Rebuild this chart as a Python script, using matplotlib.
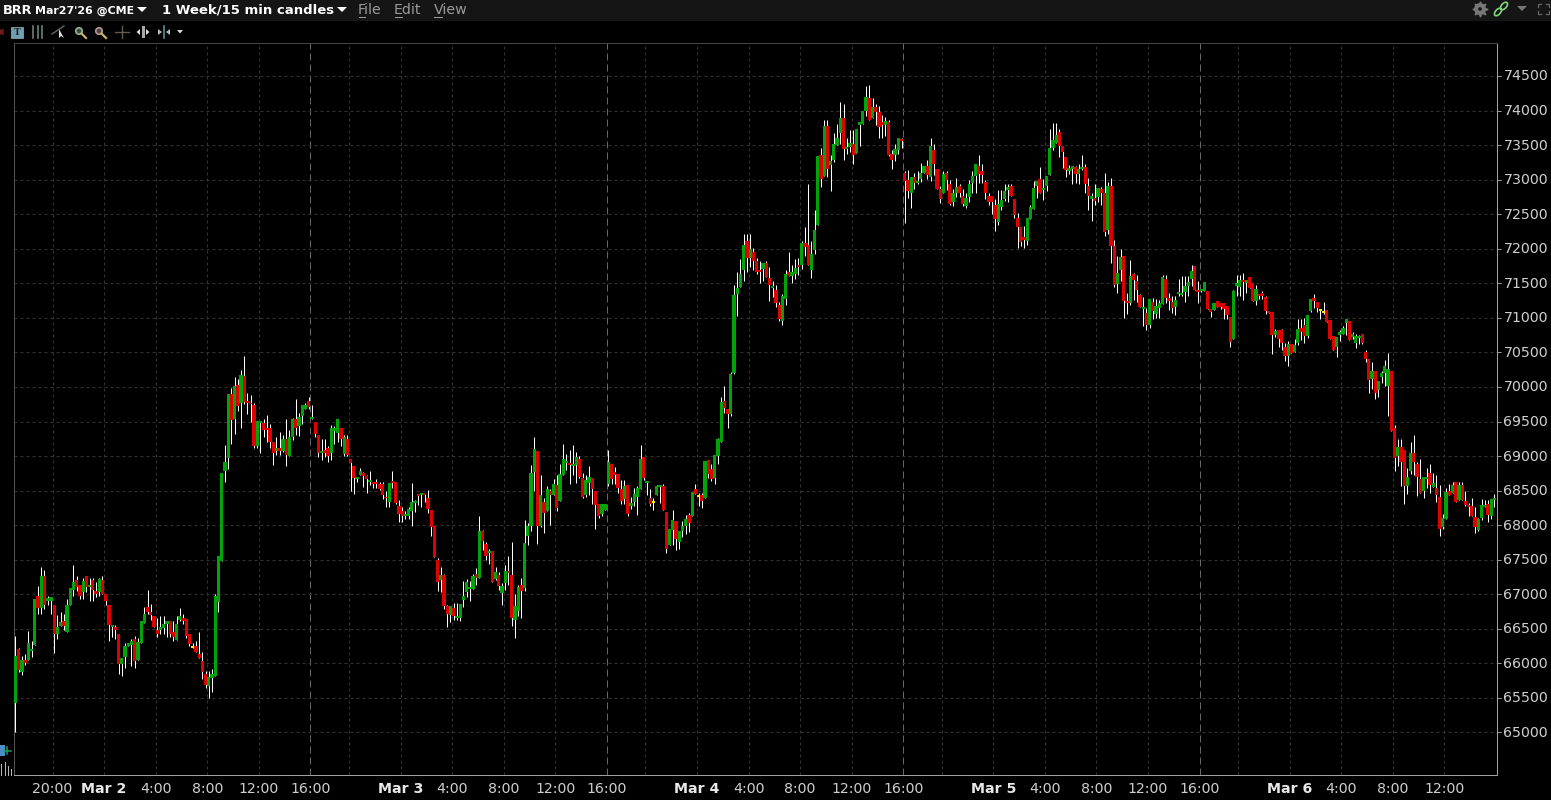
import matplotlib
matplotlib.use("Agg")
import matplotlib.pyplot as plt
from matplotlib.collections import LineCollection
from matplotlib.patches import Rectangle, Circle, Polygon, Ellipse
from matplotlib.transforms import ScaledTranslation

opens = [
65420,66210,65870,66050,66050,66180,66260,66980,66800,67270,
66900,66900,66840,66430,66540,66610,66460,66840,67060,67210,
67130,67030,67270,67100,67200,67050,67030,67200,67000,66850,
66520,66520,66420,65990,66090,66250,66260,66360,66050,66290,
66590,66820,66750,66680,66480,66490,66510,66570,66610,66450,
66340,66630,66650,66640,66420,66240,66250,66140,66040,65850,
65670,65790,65820,66890,67480,68790,68970,69900,69530,70030,
69770,70160,69800,69770,69740,69150,69480,69480,69410,69410,
69200,69070,69120,69080,69250,69000,69280,69540,69440,69580,
69680,69790,69530,69500,69310,69050,69090,69120,69050,69370,
69340,69400,69030,69240,68960,68850,68670,68730,68750,68710,
68630,68630,68630,68600,68600,68410,68340,68640,68630,68280,
68210,68130,68140,68210,68330,68450,68440,68470,68390,68220,
67990,67500,67210,67280,66830,66700,66800,66660,66660,66920,
67040,67080,67080,67300,67240,67910,67730,67600,67630,67220,
67280,67020,67160,67340,67280,66630,66760,67140,67090,67850,
67990,68770,69080,67990,68340,68210,68500,68430,68580,68350,
68730,68900,68900,68860,68870,68960,68690,68430,68610,68690,
68500,68310,68160,68220,68600,68880,68770,68740,68530,68380,
68580,68280,68340,68410,68530,68980,68610,68400,68330,68440,
68560,68570,68190,67720,67930,68060,67760,67920,67990,68150,
68140,68530,68420,68430,68400,68950,68820,68690,69000,69200,
69800,69680,69610,70200,71340,71440,71690,72110,71870,71950,
71830,71690,71700,71800,71570,71430,71410,71190,70960,71280,
71670,71610,71640,71770,71770,72090,72060,71690,71980,72340,
73350,73060,73770,73210,73280,73500,73670,73890,73440,73470,
73520,73380,73790,73800,74000,74180,73890,74050,73980,73830,
73790,73830,73370,73350,73430,73580,73090,73000,72810,73040,
72950,73010,73090,73200,73040,73430,73160,72870,72810,73100,
72940,72670,72810,72910,72770,72620,72750,72950,73060,73200,
73130,72970,72770,72770,72640,72390,72610,72720,72850,72910,
72720,72450,72320,72170,72110,72430,72580,72910,73010,72850,
72910,73070,73460,73530,73690,73490,73330,73130,73160,73190,
73080,73160,73190,72910,72720,72740,72750,72870,72810,72270,
72910,72040,71490,71690,71900,71240,71220,71640,71530,71330,
71130,71070,70900,71230,71060,71140,71200,71560,71290,71230,
71160,71350,71330,71370,71460,71560,71750,71400,71390,71390,
71390,71130,71110,71240,71210,71210,71170,71010,70690,71460,
71450,71550,71500,71590,71500,71240,71350,71360,71300,71100,
71080,70750,70820,70820,70580,70450,70620,70510,70640,70850,
70900,70740,71100,71290,71230,71110,71090,71120,70970,70740,
70580,70750,70770,70930,70950,70720,70640,70710,70770,70510,
70400,70110,70230,69950,70140,70200,70020,70230,69410,69000,
69130,69090,68560,68780,69040,68890,68670,68500,68670,68750,
68550,68540,68410,67980,68090,68490,68460,68620,68360,68580,
68350,68290,68280,68120,67930,68110,68270,68310,68140,68360,
]

closes = [
66100,65900,66050,66000,66290,66210,66930,66800,67260,66840,
66940,66960,66420,66530,66600,66540,66840,67090,67180,67110,
66980,67190,67100,67140,67060,67000,67220,67010,66910,66550,
66560,66490,65990,66080,66250,66300,66330,66030,66310,66610,
66720,66740,66700,66530,66420,66530,66570,66620,66430,66380,
66570,66690,66620,66400,66280,66240,66170,66080,65870,65690,
65800,65840,66970,67550,68750,68910,69900,69520,70020,69720,
70170,69780,69770,69750,69150,69510,69500,69380,69380,69200,
69050,69120,69080,69250,69020,69280,69530,69400,69570,69740,
69740,69710,69560,69320,69050,69080,69040,69000,69410,69400,
69530,69250,69270,69020,68900,68690,68700,68790,68710,68670,
68660,68600,68600,68520,68440,68390,68610,68610,68320,68160,
68140,68160,68240,68340,68350,68430,68470,68430,68240,67970,
67540,67180,67280,66830,66710,66830,66690,66690,66860,66980,
67180,67110,67270,67240,67920,67770,67550,67630,67180,67320,
67120,67120,67340,67310,66660,66830,67110,67050,67740,67990,
68750,69100,67990,68440,68180,68530,68440,68600,68250,68740,
68960,68930,68870,68890,68980,68700,68410,68660,68700,68530,
68290,68140,68310,68310,68920,68670,68730,68540,68350,68560,
68160,68320,68450,68540,68960,68690,68640,68310,68330,68560,
68580,68220,67660,67950,68080,67800,67920,67990,68090,68030,
68480,68450,68420,68350,68930,68740,68670,69020,69250,69780,
69690,69610,70190,71330,71430,71640,72050,71860,72000,71830,
71670,71660,71800,71590,71470,71460,71210,70990,71320,71640,
71610,71670,71720,71740,72080,72020,71770,71920,72270,73340,
73010,73770,73160,73270,73520,73610,73890,73440,73470,73530,
73350,73740,73830,74000,74190,73860,74050,73980,73760,73790,
73850,73350,73280,73440,73600,73560,72980,72840,73040,72950,
72980,73090,73200,73070,73480,73220,72870,72720,73080,73000,
72650,72810,72900,72810,72650,72740,72930,73060,73220,73080,
73070,72800,72680,72680,72430,72650,72710,72840,72900,72770,
72490,72320,72100,72130,72450,72610,72880,72980,72800,72880,
73060,73460,73580,73650,73480,73400,73140,73170,73200,73080,
73160,73190,72940,72770,72770,72690,72880,72810,72240,72910,
72040,71480,71650,71880,71240,71210,71610,71550,71400,71160,
71160,70900,71270,71100,71170,71220,71590,71290,71240,71140,
71260,71370,71360,71460,71520,71680,71400,71380,71420,71520,
71130,71080,71220,71160,71160,71130,71040,70650,71390,71500,
71550,71520,71550,71430,71240,71420,71320,71320,71100,71070,
70750,70810,70690,70640,70450,70620,70490,70610,70840,70790,
70740,71040,71270,71240,71140,71110,71090,70940,70690,70530,
70720,70790,70850,70980,70680,70770,70740,70740,70630,70400,
70100,70230,69920,70090,70200,70310,70260,69370,68970,69130,
68920,68560,68700,69040,68910,68700,68470,68700,68700,68580,
68610,68430,67940,68100,68480,68430,68580,68330,68580,68370,
68290,68270,68140,67970,68090,68290,68290,68150,68380,68390,
]

highs = [
66400,66230,66100,66130,66470,66330,66930,67120,67390,67350,
66980,66960,66840,66700,66740,66720,66930,67090,67430,67270,
67130,67230,67270,67230,67230,67180,67230,67270,67000,66850,
66560,66560,66420,66080,66290,66300,66360,66390,66370,66610,
66820,67060,66860,66680,66650,66690,66690,66620,66610,66620,
66690,66800,66720,66640,66420,66300,66330,66460,66160,65890,
65890,65920,67000,67550,68750,69160,69900,69990,70140,70110,
70240,70450,69910,69890,69770,69510,69500,69540,69600,69470,
69200,69280,69350,69310,69530,69380,69550,69830,69630,69740,
69770,69860,69740,69500,69310,69250,69250,69150,69450,69430,
69540,69400,69300,69310,68960,68850,68700,68830,68770,68730,
68790,68630,68670,68620,68630,68490,68610,68790,68630,68360,
68270,68200,68270,68610,68360,68450,68470,68470,68510,68220,
67990,67530,67390,67300,66840,66830,66880,66880,66860,67190,
67220,67190,67290,67380,68140,67930,67750,67660,67630,67390,
67320,67170,67430,67560,67760,67010,67140,67230,68080,68030,
68870,69280,69080,68730,68400,68560,68530,68670,68720,68880,
69180,69030,69090,69160,69060,69000,68750,68730,68850,68690,
68500,68310,68310,68310,69090,68880,68840,68740,68660,68660,
68580,68410,68540,68570,69160,68980,68640,68530,68390,68580,
68580,68600,68190,67950,68220,68060,67920,68060,68150,68180,
68480,68600,68460,68460,68930,68950,68880,69020,69260,69850,
70010,69680,70220,71480,71660,71850,72210,72220,72220,72010,
71870,71820,71800,71830,71730,71540,71470,71230,71340,71690,
71950,71770,71850,71860,72110,72320,72930,72110,72560,73340,
73460,73860,73870,73350,73670,73800,74120,74100,73600,73720,
73720,73740,73840,74000,74350,74370,74180,74090,74060,73930,
73900,73870,73430,73520,73600,73600,73130,73140,73040,73090,
73120,73240,73200,73290,73610,73520,73160,72910,73130,73130,
73000,72870,73030,72940,72860,72810,73000,73130,73220,73350,
73220,73000,72800,72770,72720,72850,72850,72930,72930,72940,
72720,72520,72320,72330,72450,72640,72980,72980,73190,73010,
73060,73740,73820,73820,73740,73490,73330,73210,73200,73200,
73220,73350,73230,73030,72810,72930,72880,72900,73100,72970,
73030,72130,71900,71990,71900,71360,71840,71650,71620,71350,
71300,71150,71270,71290,71280,71260,71620,71620,71360,71320,
71320,71560,71610,71610,71610,71770,71750,71530,71420,71520,
71390,71130,71220,71240,71210,71210,71170,71010,71410,71620,
71620,71650,71550,71590,71500,71480,71350,71390,71310,71100,
71080,70840,70820,70840,70640,70660,70620,70700,70980,70980,
71000,71040,71270,71350,71230,71110,71230,71120,70970,70740,
70720,70820,70880,70990,70950,70800,70770,70750,70770,70530,
70400,70360,70230,70090,70230,70390,70490,70230,69450,69240,
69250,69090,68830,69210,69300,68910,68960,68700,68830,68880,
68750,68730,68580,68160,68540,68600,68620,68620,68620,68620,
68490,68320,68390,68260,68110,68380,68360,68370,68380,68450,
]

lows = [
65000,65880,65830,65980,66050,66090,66260,66710,66710,66790,
66840,66720,66150,66350,66540,66480,66460,66840,66980,67050,
66930,66930,67030,66910,66900,66960,66980,67010,66840,66330,
66380,66350,65850,65820,65940,66250,65960,65940,66050,66290,
66590,66720,66630,66530,66380,66430,66430,66380,66380,66320,
66340,66610,66570,66370,66250,66230,66170,66080,65780,65650,
65500,65580,65820,66750,67480,68620,68820,69180,69320,69650,
69400,69760,69610,69500,69110,69110,69050,69270,69210,69110,
68870,69020,69010,69060,68850,69000,69230,69310,69290,69470,
69680,69680,69530,69280,68980,68940,68990,68910,68950,69180,
69200,69140,69000,69000,68500,68450,68620,68730,68550,68470,
68580,68540,68540,68510,68380,68260,68260,68540,68310,68040,
68050,68090,68090,67990,68190,68290,68270,68330,68170,67850,
67540,67050,67040,66790,66520,66600,66630,66630,66610,66810,
66960,66910,67080,67140,67240,67640,67500,67440,67180,67210,
67060,66850,67060,67130,66540,66370,66680,66660,67050,67720,
67920,68500,67730,67970,67890,68210,68000,68430,68210,68350,
68730,68800,68600,68730,68610,68680,68400,68410,68440,68300,
67950,68110,68130,68220,68560,68590,68600,68470,68310,68310,
68140,68230,68280,68150,68530,68650,68440,68280,68220,68440,
68320,68220,67600,67720,67720,67640,67660,67830,67870,67900,
68140,68450,68280,68250,68400,68680,68640,68600,68890,69200,
69620,69400,69580,70190,71030,71440,71540,71670,71730,71690,
71630,71510,71540,71590,71240,71300,71160,70950,70900,71180,
71610,71510,71560,71620,71700,71890,71770,71570,71930,72340,
72890,73060,73040,72830,73250,73500,73510,73280,73370,73400,
73220,73380,73480,73800,73920,73860,73890,73790,73610,73600,
73630,73340,73150,73270,73370,73460,72370,72740,72590,72870,
72930,72960,73090,73010,72980,73070,72870,72660,72810,72850,
72630,72620,72750,72750,72620,72590,72680,72800,72800,72950,
72950,72720,72640,72510,72260,72350,72560,72690,72680,72770,
72450,72010,72040,72010,72060,72430,72580,72740,72800,72700,
72840,73070,73430,73530,73330,73170,73040,73080,72930,72950,
72940,73140,72810,72560,72400,72630,72680,72630,72190,72210,
71790,71450,71360,71530,71000,71060,71190,71260,71230,71160,
70880,70820,70850,70980,71000,71000,71200,71210,71110,71070,
71040,71320,71310,71230,71320,71460,71400,71220,71380,71390,
71130,71010,71110,71160,71130,70980,70980,70580,70690,71320,
71320,71260,71360,71430,71240,71190,71270,71270,71060,71070,
70480,70730,70580,70530,70380,70300,70490,70510,70610,70680,
70640,70710,71090,71140,71080,70990,71060,70940,70690,70530,
70430,70660,70770,70750,70680,70700,70570,70620,70620,70360,
69910,69970,69830,69860,70060,70020,69580,69370,68780,68860,
68560,68300,68450,68740,68730,68420,68470,68390,68540,68460,
68550,68330,67850,67950,68090,68430,68460,68330,68360,68370,
68280,68130,68130,67890,67910,68080,68270,68050,68090,68270,
]

price_ticks = [65000,65500,66000,66500,67000,67500,68000,68500,69000,69500,
               70000,70500,71000,71500,72000,72500,73000,73500,74000,74500]
labelled_bars = [11.5,27.5,43.5,59.5,75.5,91.5,119.5,135.5,151.5,167.5,183.5,
                 211.5,227.5,243.5,259.5,275.5,303.5,319.5,335.5,351.5,367.5,
                 395.5,411.5,427.5,443.5]
time_labels = ["20:00","Mar 2","4:00","8:00","12:00","16:00","Mar 3","4:00","8:00","12:00","16:00",
               "Mar 4","4:00","8:00","12:00","16:00","Mar 5","4:00","8:00","12:00","16:00",
               "Mar 6","4:00","8:00","12:00"]
plain_grid_bars = [103.5,195.5,287.5,379.5]
session_bars = [91.5,183.5,275.5,367.5]

W, H = 1551, 800
BAR_PX = 3.222
FIRST_PX = 15.5
AX_L, AX_R, AX_T, AX_B = 14.5, 1496.5, 43.0, 775.0
PX_PER_UNIT = 656.5 / 9500.0

GREEN, RED, YELLOW = "#00A30A", "#DF0000", "#FFEE00"

fig = plt.figure(figsize=(W/100, H/100), dpi=100, facecolor="black")
ax = fig.add_axes([AX_L/W, 1-AX_B/H, (AX_R-AX_L)/W, (AX_B-AX_T)/H], facecolor="black")
ax.set_xlim((AX_L-FIRST_PX)/BAR_PX, (AX_R-FIRST_PX)/BAR_PX)
ax.set_ylim(65000-(AX_B-732.5)/PX_PER_UNIT, 65000+(732.5-AX_T)/PX_PER_UNIT)

# grid
for b in labelled_bars + plain_grid_bars:
    if b not in session_bars:
        ax.axvline(b, color="#333333", lw=0.72, ls=(0,(3,3)), zorder=1)
for b in session_bars:
    ax.axvline(b, color="#666666", lw=0.72, ls=(0,(7,4)), zorder=1)
for p in price_ticks:
    ax.axhline(p, color="#333333", lw=0.72, ls=(0,(3,3)), zorder=1)

# candles
xs = list(range(len(opens)))
wicks = LineCollection([[(i, l), (i, h)] for i, l, h in zip(xs, lows, highs)],
                       colors="white", linewidths=0.72, antialiased=True, zorder=2)
wicks.set_snap(True)
ax.add_collection(wicks)
MIN_BODY = 26
bottoms, heights, cols = [], [], []
for o, c in zip(opens, closes):
    size = abs(c - o)
    if size < MIN_BODY:
        bottoms.append((o + c)/2 - MIN_BODY/2); heights.append(MIN_BODY)
    else:
        bottoms.append(min(o, c)); heights.append(size)
    cols.append(YELLOW if c == o else (GREEN if c > o else RED))
ax.bar(xs, heights, bottom=bottoms, width=1.0, color=cols, linewidth=0, antialiased=False, zorder=3)

# axes
ax.yaxis.tick_right()
ax.set_yticks(price_ticks)
ax.set_yticklabels([str(p) for p in price_ticks], fontsize=10.2, color="#cfcfcf", family="DejaVu Sans")
ax.tick_params(axis="y", length=3, width=0.72, color="#9a9a9a", pad=2)
up_one_px = ScaledTranslation(0, 1/100, fig.dpi_scale_trans)
for lab in ax.get_yticklabels():
    lab.set_transform(lab.get_transform() + up_one_px)
ax.set_xticks(labelled_bars)
ax.set_xticklabels(time_labels, fontsize=10.2, color="#cfcfcf", family="DejaVu Sans")
ax.tick_params(axis="x", length=0, pad=5)
for lab, txt in zip(ax.get_xticklabels(), time_labels):
    if txt.startswith("Mar"):
        lab.set_fontweight("bold")
        lab.set_color("#e8e8e8")
for side, col in [("left","#555555"),("right","#a0a0a0"),("bottom","#a0a0a0"),("top","#444444")]:
    ax.spines[side].set_color(col)
    ax.spines[side].set_linewidth(0.72)

# overlay in pixel coordinates for the window chrome
ov = fig.add_axes([0,0,1,1], facecolor="none", zorder=10)
ov.set_xlim(0, W); ov.set_ylim(H, 0); ov.axis("off")
ov.add_patch(Rectangle((0,0), W, 21, color="#151515", lw=0))
tk = dict(va="center", ha="left", family="DejaVu Sans", color="white")
ov.text(3, 10, "BRR", fontsize=9.3, fontweight="bold", **tk)
ov.text(35, 10.5, "Mar27'26 @CME", fontsize=7.9, fontweight="bold", **tk)
ov.add_patch(Polygon([(137,7),(147,7),(142,12)], color="white", lw=0))
ov.text(162, 10, "1 Week/15 min candles", fontsize=9.5, fontweight="bold", **tk)
ov.add_patch(Polygon([(337,7),(347,7),(342,12)], color="white", lw=0))
for x, label, ux in [(358,"File",(359,365)),(394,"Edit",(395,402)),(434,"View",(434,442))]:
    ov.text(x, 10, label, fontsize=10.2, va="center", ha="left", family="DejaVu Sans", color="#9a9a9a")
    ov.plot(ux, [16.5,16.5], color="#9a9a9a", lw=0.72)

# right hand icons
ov.add_patch(Circle((1480,9), 4.2, fc="none", ec="#777777", lw=2.4))
ov.plot([1480],[9], marker=(8,1,0), ms=11, color="#777777", ls="none", zorder=2)
ov.add_patch(Circle((1480,9), 1.8, fc="#151515", ec="none", zorder=3))
ov.add_patch(Ellipse((1498,12), 9, 5, angle=-48, fc="none", ec="#7fd67f", lw=1.2))
ov.add_patch(Ellipse((1504,6), 9, 5, angle=-48, fc="none", ec="#7fd67f", lw=1.2))
ov.add_patch(Polygon([(1517,6),(1527,6),(1522,11)], color="#777777", lw=0))
for xa, ya, dx, dy in [(1538,4,3,3),(1549,4,-3,3),(1538,14,3,-3),(1549,14,-3,-3)]:
    ov.plot([xa,xa,xa+dx],[ya+dy,ya,ya], color="#666666", lw=0.9)

# toolbar icons
ov.plot([0,3],[30,34], color="#7a1f1f", lw=1.3); ov.plot([0,3],[34,30], color="#7a1f1f", lw=1.3)
ov.add_patch(Rectangle((11,27), 12, 11, fc="#6f9fb5", ec="#9ab", lw=0.5))
ov.text(17, 32.5, "T", fontsize=6.5, fontweight="bold", color="#222222", ha="center", va="center", family="DejaVu Serif")
for x, c in [(33,"#777777"),(38,"#5a8a80"),(42,"#777777")]:
    ov.plot([x,x],[26,38], color=c, lw=1.2)
ov.plot([52,64],[34,26], color="#666666", lw=1)
ov.add_patch(Polygon([(59,29),(59,38),(61,36),(64,38)], color="#dddddd", lw=0))
for cx, ring in [(79,"#8fae8f"),(99,"#b09090")]:
    ov.add_patch(Circle((cx,31), 3.2, fc="#444444", ec=ring, lw=1.3))
    ov.plot([cx+2.5,cx+7],[33.5,38], color="#c8b070", lw=1.6)
ov.plot([115,129],[32,32], color="#66584a", lw=1); ov.plot([122,122],[26,38], color="#66584a", lw=1)
ov.add_patch(Rectangle((141.5,26), 3.5, 12, color="#aaaaaa", lw=0))
ov.add_patch(Polygon([(140,29),(140,35),(136.5,32)], color="#dddddd", lw=0))
ov.add_patch(Polygon([(146,29),(146,35),(149.5,32)], color="#dddddd", lw=0))
ov.plot([164,164],[26,38], color="#5a8a9a", lw=1.2)
ov.add_patch(Polygon([(158,29),(158,35),(162,32)], color="#bbbbbb", lw=0))
ov.add_patch(Polygon([(170,29),(170,35),(166,32)], color="#bbbbbb", lw=0))
ov.add_patch(Polygon([(177,30),(183,30),(180,33.5)], color="#dddddd", lw=0))

# left margin marks
ov.add_patch(Rectangle((0,745), 5, 11, color="#4a8fc8", lw=0))
ov.plot([4,11],[750.5,750.5], color="#20a060", lw=1.1)
ov.plot([7,7],[747,754], color="#20a060", lw=1.1)
for x, top in [(0.8,764),(4.5,762),(7.5,766),(10.5,769)]:
    ov.plot([x,x],[top,775], color="#bbbbbb", lw=0.7)

fig.savefig("out.png", dpi=100, facecolor="black")
